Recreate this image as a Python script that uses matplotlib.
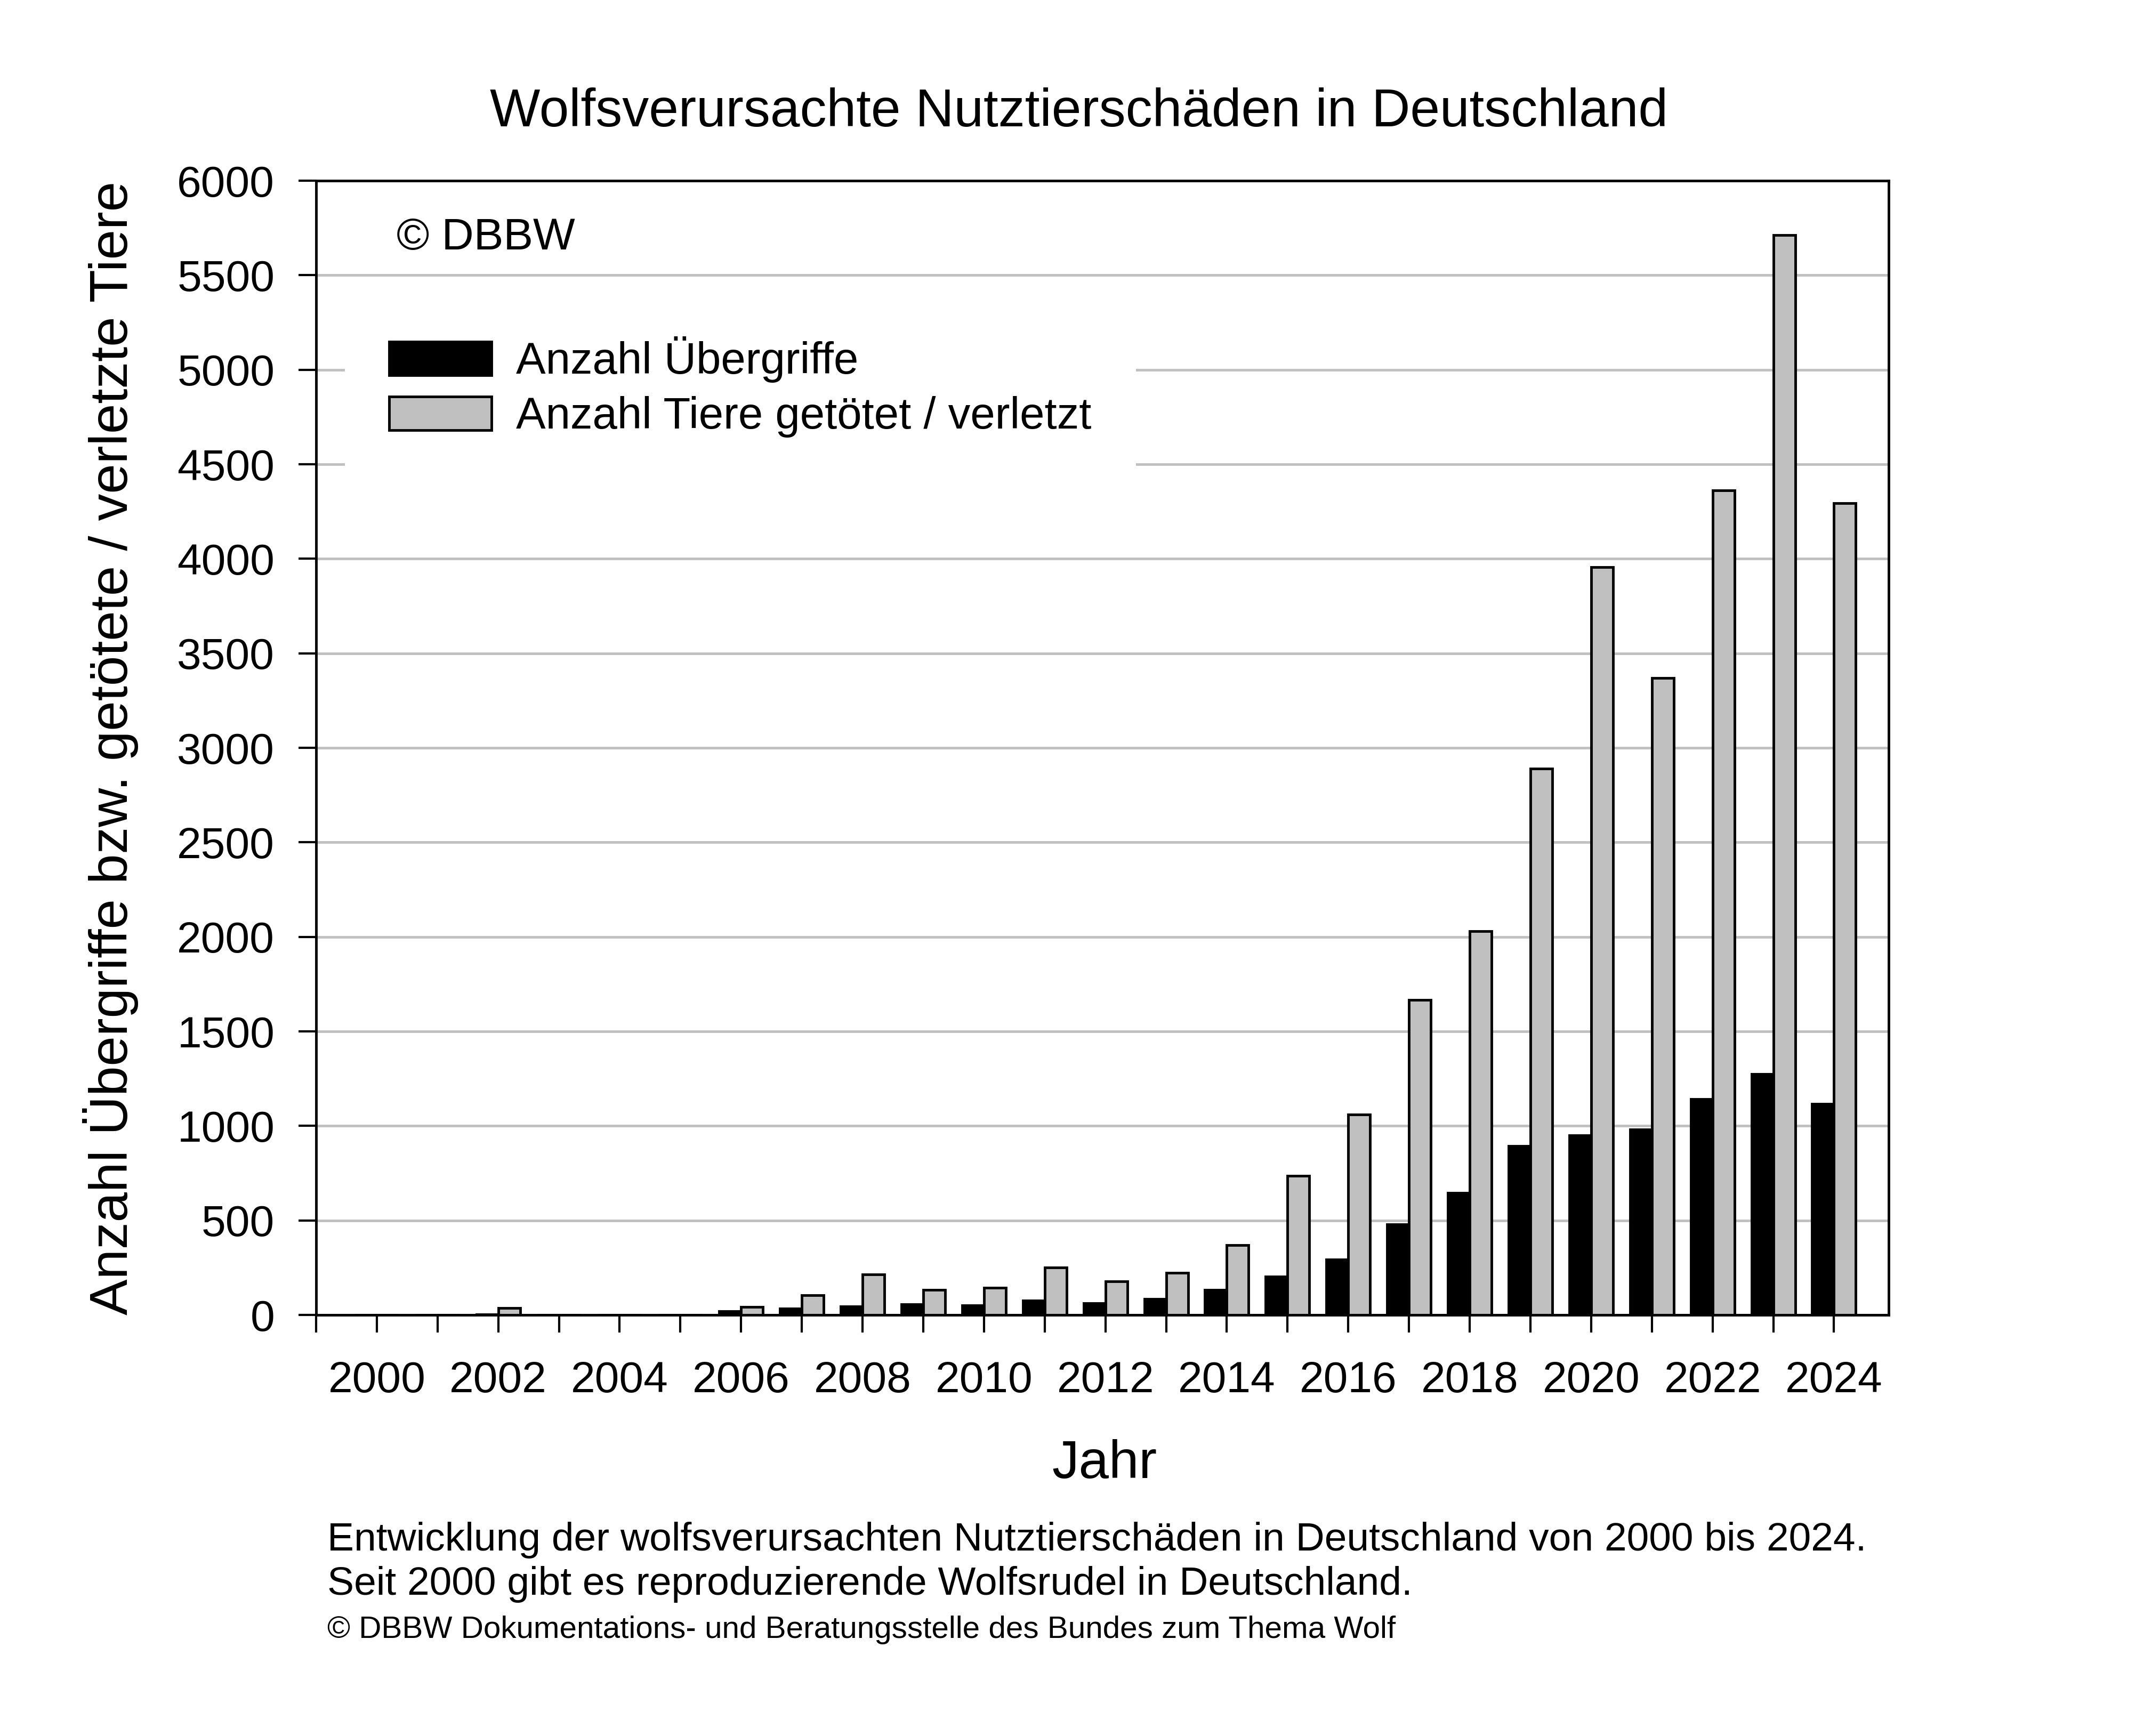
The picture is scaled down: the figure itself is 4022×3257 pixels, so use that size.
import matplotlib
matplotlib.use('Agg')
import matplotlib.pyplot as plt
import matplotlib.patches as mpatches
import numpy as np

plt.rcParams['font.family'] = ['Liberation Sans', 'DejaVu Sans']

# ── Data ─────────────────────────────────────────────────────────────────
years = np.arange(2000, 2025)
attacks = [0, 0, 3, 0, 0, 0, 20, 33, 45, 55, 50, 75, 61, 84, 132,
           204, 292, 478, 645, 893, 950, 981, 1141, 1275, 1117]
animals = [0, 0, 36, 0, 0, 0, 42, 104, 214, 133, 144, 251, 178, 223, 368,
           737, 1059, 1667, 2030, 2889, 3957, 3370, 4362, 5713, 4295]
ytick_vals = np.arange(0, 6001, 500)
xtick_major = np.arange(1999, 2025)
xtick_labels = [str(y) if y % 2 == 0 else '' for y in xtick_major]

GREY = '#c0c0c0'
LW = 3.5

W, H = 4022, 3257
fig = plt.figure(figsize=(W / 100, H / 100), dpi=100)
ax = fig.add_axes([593 / W, 1 - 2467 / H, (3543 - 593) / W, (2467 - 339) / H])

# ── Bars ─────────────────────────────────────────────────────────────────
bw = 0.36
ax.bar(years, attacks, width=-bw, align='edge', color='black',
       edgecolor='black', linewidth=LW, zorder=3)
ax.bar(years, animals, width=bw, align='edge', color=GREY,
       edgecolor='black', linewidth=LW, zorder=3)

# ── Axes styling ─────────────────────────────────────────────────────────
ax.set_xlim(1999, 2024.9)
ax.set_ylim(0, 6000)
ax.set_yticks(ytick_vals)
ax.set_yticklabels([str(v) for v in ytick_vals])
ax.set_xticks(xtick_major)
ax.set_xticklabels(xtick_labels)
ax.yaxis.grid(True, color=GREY, linewidth=LW, zorder=0)
ax.set_axisbelow(True)
for sp in ax.spines.values():
    sp.set_linewidth(LW)
ax.tick_params(axis='both', direction='out', length=24, width=3, labelsize=59)
ax.tick_params(axis='y', pad=32)
ax.tick_params(axis='x', pad=38)

# ── Legend ───────────────────────────────────────────────────────────────
h1 = mpatches.Patch(facecolor='black', edgecolor='black', linewidth=LW)
h2 = mpatches.Patch(facecolor=GREY, edgecolor='black', linewidth=LW)
leg = ax.legend([h1, h2], ['Anzahl Übergriffe', 'Anzahl Tiere getötet / verletzt'],
                loc='upper left', bbox_to_anchor=(647 / W, 1 - 548 / H),
                bbox_transform=fig.transFigure, fontsize=60,
                frameon=True, fancybox=False, framealpha=1,
                handlelength=2.3, handleheight=0.78, handletextpad=0.55,
                labelspacing=0.30, borderpad=1.0, borderaxespad=0)
leg.get_frame().set_facecolor('white')
leg.get_frame().set_edgecolor('none')
leg.set_zorder(5)

# ── Texts ────────────────────────────────────────────────────────────────
fig.text(2024 / W, 1 - 237 / H, 'Wolfsverursachte Nutztierschäden in Deutschland',
         ha='center', va='baseline', fontsize=72)
fig.text(744 / W, 1 - 468 / H, '© DBBW', ha='left', va='baseline', fontsize=60)
fig.text(208 / W, 1 - 1403 / H, 'Anzahl Übergriffe bzw. getötete / verletzte Tiere',
         rotation=90, ha='center', va='center', fontsize=73)
fig.text(2072 / W, 1 - 2773 / H, 'Jahr', ha='center', va='baseline', fontsize=73)
fig.text(614 / W, 1 - 2909 / H,
         'Entwicklung der wolfsverursachten Nutztierschäden in Deutschland von 2000 bis 2024.',
         ha='left', va='baseline', fontsize=54)
fig.text(614 / W, 1 - 2992 / H,
         'Seit 2000 gibt es reproduzierende Wolfsrudel in Deutschland.',
         ha='left', va='baseline', fontsize=54)
fig.text(614 / W, 1 - 3073 / H,
         '© DBBW Dokumentations- und Beratungsstelle des Bundes zum Thema Wolf',
         ha='left', va='baseline', fontsize=42)

fig.savefig('out.png', dpi=100, facecolor='white')
